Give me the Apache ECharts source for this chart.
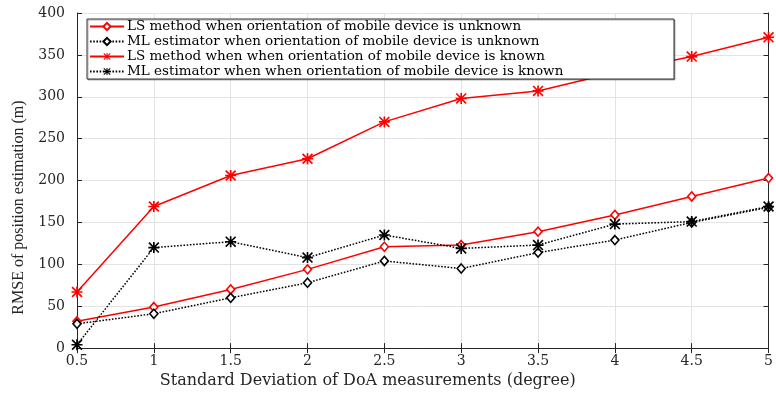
<!DOCTYPE html>
<html>
<head>
<meta charset="utf-8">
<script src="https://cdn.jsdelivr.net/npm/echarts@6/dist/echarts.min.js"></script>
<style>
  html, body { margin: 0; padding: 0; background: #fff; }
  #chart { width: 776px; height: 394px; }
</style>
</head>
<body>
<div id="chart"></div>
<script>
// Standard deviation of DoA measurements (degree)
const sigma = [0.5, 1, 1.5, 2, 2.5, 3, 3.5, 4, 4.5, 5];

// RMSE of position estimation (m)
const lsUnknown = [32, 49, 70, 94, 121, 123, 139, 159, 181, 203];
const mlUnknown = [29, 41, 60, 78, 104, 95, 114, 129, 150, 168];
const lsKnown   = [67, 169, 206, 226, 270, 298, 307, 329, 348, 371];
const mlKnown   = [4, 120, 127, 108, 135, 119, 123, 148, 151, 169];

const seriesNames = [
  'LS method when orientation of mobile device is unknown',
  'ML estimator when orientation of mobile device is unknown',
  'LS method when when orientation of mobile device is known',
  'ML estimator when when orientation of mobile device is known'
];

const xTicks = [0.5, 1, 1.5, 2, 2.5, 3, 3.5, 4, 4.5, 5];
const yTicks = [0, 50, 100, 150, 200, 250, 300, 350, 400];

// eight-armed asterisk marker built from four thin bars
const asterisk = 'path://M0,8.5L20,8.5L20,11.5L0,11.5Z' +
  'M8.5,0L11.5,0L11.5,20L8.5,20Z' +
  'M2.1,0L20,17.9L17.9,20L0,2.1Z' +
  'M17.9,0L20,2.1L2.1,20L0,17.9Z';

const WIDE_SERIF = '"DejaVu Serif", "Liberation Serif", serif';
const SERIF = '"Liberation Serif", "Times New Roman", serif';
const AXIS_COLOR = '#262626';

const pair = (ys) => sigma.map((x, i) => [x, ys[i]]);

const chart = echarts.init(document.getElementById('chart'), null, { renderer: 'canvas' });

const frameAxis = {
  axisLine: { show: true, lineStyle: { color: AXIS_COLOR, width: 1 } },
  axisTick: { show: true, inside: true, length: 5, lineStyle: { color: AXIS_COLOR } },
  axisLabel: { show: false },
  splitLine: { show: false }
};

function makeSeries(name, data, color, dotted, marker) {
  const diamond = marker === 'diamond';
  return {
    name: name,
    type: 'line',
    data: pair(data),
    symbol: diamond ? 'diamond' : asterisk,
    symbolSize: diamond ? [8, 9] : 11,
    showSymbol: true,
    lineStyle: { color: color, width: 1.5, type: dotted ? [1.6, 1.6] : 'solid' },
    itemStyle: diamond
      ? { color: '#fff', borderColor: color, borderWidth: 1.6 }
      : { color: color, borderWidth: 0 },
    emphasis: { disabled: true },
    animation: false
  };
}

chart.setOption({
  animation: false,
  backgroundColor: '#fff',
  grid: { left: 77, right: 3, top: 13, bottom: 44, containLabel: false },
  xAxis: [
    {
      type: 'value', min: 0.5, max: 5, interval: 0.5,
      name: 'Standard Deviation of DoA measurements (degree)',
      nameLocation: 'middle', nameGap: 23,
      nameTextStyle: { fontFamily: WIDE_SERIF, fontSize: 16, color: AXIS_COLOR, padding: [0, 110, 0, 0] },
      axisLine: { show: true, lineStyle: { color: AXIS_COLOR, width: 1 } },
      axisTick: { show: true, inside: true, length: 5, lineStyle: { color: AXIS_COLOR } },
      axisLabel: {
        fontFamily: WIDE_SERIF, fontSize: 14, color: AXIS_COLOR, margin: 6,
        formatter: (v) => xTicks.includes(v) ? String(v) : ''
      },
      splitLine: { show: true, lineStyle: { color: '#e3e3e3', width: 1 } }
    },
    Object.assign({ type: 'value', min: 0.5, max: 5, interval: 0.5, position: 'top' }, frameAxis)
  ],
  yAxis: [
    {
      type: 'value', min: 0, max: 400, interval: 50,
      name: 'RMSE of position estimation (m)',
      nameLocation: 'middle', nameGap: 50, nameRotate: 90,
      nameTextStyle: { fontFamily: SERIF, fontSize: 16, color: AXIS_COLOR, padding: [0, 54, 0, 0] },
      axisLine: { show: true, lineStyle: { color: AXIS_COLOR, width: 1 } },
      axisTick: { show: true, inside: true, length: 5, lineStyle: { color: AXIS_COLOR } },
      axisLabel: {
        fontFamily: WIDE_SERIF, fontSize: 14, color: AXIS_COLOR, margin: 12,
        formatter: (v) => yTicks.includes(v) ? String(v) : ''
      },
      splitLine: { show: true, lineStyle: { color: '#e3e3e3', width: 1 } }
    },
    Object.assign({ type: 'value', min: 0, max: 400, interval: 50, position: 'right' }, frameAxis)
  ],
  legend: {
    orient: 'vertical',
    left: 89, top: 19,
    padding: 0,
    itemGap: 0,
    itemWidth: 34, itemHeight: 9,
    backgroundColor: 'transparent',
    textStyle: { fontFamily: WIDE_SERIF, fontSize: 13.5, lineHeight: 15, color: '#000', padding: [0, 0, 0, -2] },
    data: seriesNames,
    z: 10
  },
  graphic: [
    {
      type: 'rect', z: 5,
      shape: { x: 87, y: 19, width: 587, height: 60 },
      style: { fill: '#fff', stroke: '#333', lineWidth: 1,
               shadowColor: 'rgba(0,0,0,0.3)', shadowOffsetX: 1, shadowOffsetY: 1, shadowBlur: 0 }
    }
  ],
  series: [
    makeSeries(seriesNames[0], lsUnknown, '#ff0000', false, 'diamond'),
    makeSeries(seriesNames[1], mlUnknown, '#000000', true, 'diamond'),
    makeSeries(seriesNames[2], lsKnown, '#ff0000', false, 'star'),
    makeSeries(seriesNames[3], mlKnown, '#000000', true, 'star')
  ]
});
</script>
</body>
</html>
